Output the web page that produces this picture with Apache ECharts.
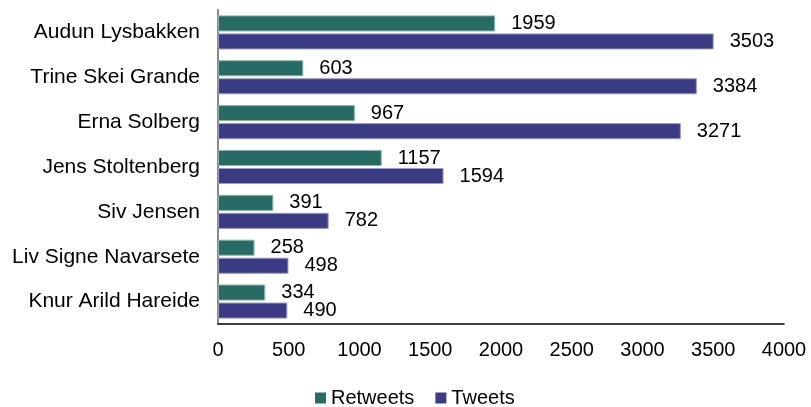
<!DOCTYPE html>
<html>
<head>
<meta charset="utf-8">
<script src="https://cdn.jsdelivr.net/npm/echarts@6/dist/echarts.min.js"></script>
<style>
  html, body { margin: 0; padding: 0; background: #fff; }
  #chart { width: 811px; height: 407px; }
</style>
</head>
<body>
<div id="chart"></div>
<script>
// Politicians, listed top to bottom
const names = [
  'Audun Lysbakken',
  'Trine Skei Grande',
  'Erna Solberg',
  'Jens Stoltenberg',
  'Siv Jensen',
  'Liv Signe Navarsete',
  'Knur Arild Hareide'
];
const retweets = [1959, 603, 967, 1157, 391, 258, 334];
const tweets = [3503, 3384, 3271, 1594, 782, 498, 490];
const xTicks = { min: 0, max: 4000, step: 500 };

const font = 'Liberation Sans, Arial, sans-serif';
const chart = echarts.init(document.getElementById('chart'));

const labelStyle = {
  show: true,
  position: 'right',
  distance: 16,
  color: '#000',
  fontFamily: font,
  fontSize: 20
};

chart.setOption({
  animation: false,
  grid: { left: 218, right: 27, top: 10, bottom: 83, containLabel: false },
  legend: {
    top: 388,
    left: 315,
    padding: 0,
    itemWidth: 11,
    itemHeight: 11,
    itemGap: 21,
    icon: 'rect',
    itemStyle: { borderWidth: 0 },
    textStyle: { fontFamily: font, fontSize: 20, color: '#000' },
    data: ['Retweets', 'Tweets']
  },
  xAxis: {
    type: 'value',
    min: xTicks.min,
    max: xTicks.max,
    interval: xTicks.step,
    axisLine: { show: true, lineStyle: { color: '#000', width: 1.5 } },
    axisTick: { show: false },
    splitLine: { show: false },
    axisLabel: {
      margin: 16,
      color: '#000',
      fontFamily: font,
      fontSize: 20,
      formatter: (v) => String(v)
    }
  },
  yAxis: {
    type: 'category',
    data: names,
    inverse: true,
    axisLine: { show: true, lineStyle: { color: '#888', width: 2 } },
    axisTick: { show: false },
    axisLabel: { margin: 18, color: '#000', fontFamily: font, fontSize: 21 }
  },
  series: [
    {
      name: 'Retweets',
      type: 'bar',
      data: retweets,
      barGap: '12%',
      barCategoryGap: '24%',
      itemStyle: { color: '#276B64', borderColor: '#8FB3AE', borderWidth: 1 },
      label: labelStyle
    },
    {
      name: 'Tweets',
      type: 'bar',
      data: tweets,
      barGap: '12%',
      barCategoryGap: '24%',
      itemStyle: { color: '#3A3B82', borderColor: '#9A9BC4', borderWidth: 1 },
      label: labelStyle
    }
  ]
});
</script>
</body>
</html>
